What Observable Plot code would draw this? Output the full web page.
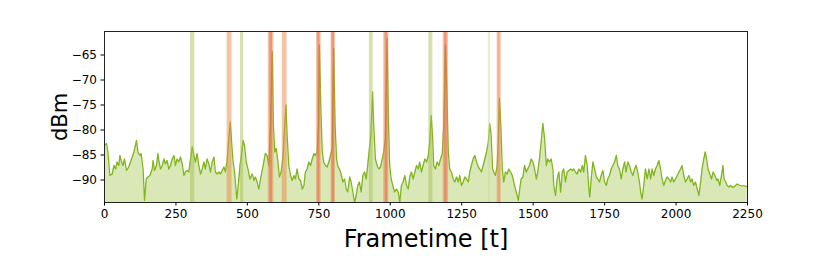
<!DOCTYPE html>
<html><head><meta charset="utf-8">
<script src="https://cdn.jsdelivr.net/npm/d3@7"></script>
<script src="https://cdn.jsdelivr.net/npm/@observablehq/plot@0.6"></script>
<style>
html,body{margin:0;padding:0;background:#fff;}
svg{font-family:"DejaVu Sans",sans-serif;}
</style>
</head><body><div id="chart"></div>
<script>
// Frame times (t) and received power (dBm)
const times = [2,7,12,19,27,33,39,44,50,54,58,65,70,77,85,91,97,103,112,117,124,128,135,140,146,152,159,167,170,175,182,187,191,196,202,208,213,219,225,231,237,243,248,254,260,266,272,278,283,289,295,301,307,313,318,324,330,336,342,348,353,359,365,371,377,383,388,394,400,406,412,418,423,429,435,440,444,449,455,460,463,468,474,479,485,490,496,502,509,517,523,528,534,540,546,555,563,569,575,581,587,591,596,601,607,612,618,624,630,635,639,645,651,657,663,668,674,680,
686,692,698,703,709,715,721,727,733,738,744,749,752,757,762,767,773,779,785,791,797,802,807,812,816,822,828,834,840,846,851,858,863,869,875,881,886,892,898,904,910,916,921,927,932,938,942,948,954,960,966,972,977,983,989,994,998,1003,1009,1015,1022,1028,1033,1039,1045,1051,1057,1063,1068,1074,1080,1086,1092,1098,1103,1109,1115,1121,1127,1133,1138,1143,1148,1152,1158,1164,1170,1176,1182,1187,1193,1198,1203,1208,1214,1220,1226,1232,1238,1243,1249,1255,1261,1267,1273,1278,1284,1290,1296,1302,1308,1313,1319,1325,1331,1337,1343,1348,1353,1358,1362,1368,1374,1378,1382,1387,
1392,1397,1403,1409,1415,1421,1427,1432,1438,1444,1448,1453,1458,1464,1470,1476,1481,1487,1493,1499,1505,1511,1516,1522,1528,1534,1540,1546,1551,1557,1563,1569,1572,1578,1584,1590,1596,1602,1607,1613,1619,1625,1631,1637,1642,1648,1654,1660,1666,1672,1677,1683,1689,1695,1698,1703,1709,1715,1721,1726,1732,1738,1744,1750,1756,1761,1767,1773,1779,1785,1791,1796,1802,1808,1814,1820,1825,1831,1837,1843,1849,1855,1860,1866,1872,1876,1881,1887,1893,1899,1905,1911,1916,1922,1928,1934,1940,1946,1951,1957,1963,1969,1975,1981,1986,1992,1998,2004,2010,2016,2021,2027,2033,2039,2045,2051,2056,2062,2068,2074,2080,2086,2091,2097,2102,2107,2112,2118,2124,2130,2136,2142,2147,2153,2159,2164,2168,2174,2179,2185,2191,2196,2202,2208,2214,2220,2226,2231,2237,2243,2249];
const dbm = [-83.0,-82.7,-84.4,-89.1,-88.8,-87.1,-87.8,-86.4,-87.1,-85.1,-86.1,-87.1,-85.8,-88.1,-87.4,-86.4,-85.4,-84.4,-82.1,-84.4,-85.1,-84.7,-87.8,-94.1,-89.8,-89.4,-89.1,-87.8,-86.1,-88.1,-87.1,-84.7,-86.4,-87.8,-87.1,-85.8,-86.8,-86.1,-87.8,-87.1,-85.8,-85.1,-87.1,-85.8,-86.4,-85.4,-86.8,-89.1,-88.4,-88.1,-88.4,-85.8,-83.4,-85.1,-86.4,-84.7,-87.1,-88.8,-87.8,-86.4,-87.8,-85.8,-86.8,-88.4,-86.4,-85.4,-88.4,-88.8,-88.4,-88.8,-88.1,-87.4,-88.4,-86.1,-81.7,-78.4,-81.7,-85.8,-88.4,-91.8,-93.8,-91.1,-87.1,-85.1,-82.1,-83.1,-86.4,-87.8,-89.8,-88.8,-90.1,-89.4,-90.4,-91.8,-89.8,-87.1,-84.7,-85.1,-87.1,-79.1,-64.3,-79.1,-84.4,-83.7,-86.4,-89.4,-88.4,-85.8,-79.7,-75.0,-81.1,-87.1,-89.1,-90.1,-89.1,-89.8,-87.8,-89.8,
-90.1,-91.8,-91.1,-88.4,-87.8,-86.4,-87.1,-85.8,-84.7,-85.1,-84.4,-79.1,-63.0,-75.7,-84.4,-86.4,-87.1,-87.4,-86.4,-85.1,-83.7,-63.7,-79.1,-85.8,-87.1,-87.8,-88.8,-90.4,-89.8,-91.8,-92.4,-89.4,-90.4,-92.4,-94.5,-93.1,-91.1,-90.4,-92.4,-89.1,-88.4,-89.8,-87.1,-83.7,-81.1,-72.4,-79.1,-85.8,-87.1,-87.8,-87.4,-85.8,-84.4,-81.7,-61.7,-79.1,-87.1,-89.8,-91.1,-92.4,-91.8,-92.4,-94.5,-91.1,-90.4,-89.1,-91.1,-91.8,-89.4,-88.4,-89.8,-88.4,-87.1,-87.8,-86.4,-88.4,-87.1,-85.8,-86.4,-85.1,-82.4,-77.1,-81.1,-87.1,-87.8,-86.4,-87.1,-85.8,-84.7,-79.1,-63.0,-72.4,-84.4,-87.8,-88.4,-89.8,-90.4,-89.4,-90.4,-89.1,-91.1,-90.4,-89.4,-89.8,-90.4,-88.4,-87.1,-85.8,-85.1,-86.4,-87.4,-87.8,-88.4,-87.1,-85.8,-84.4,-82.4,-78.7,-81.1,-87.8,-88.4,-89.1,-87.1,-82.4,-73.7,-79.1,
-87.8,-90.4,-88.4,-88.8,-87.8,-88.4,-89.1,-90.4,-91.8,-93.1,-94.1,-91.8,-89.8,-89.4,-87.1,-88.4,-87.8,-87.1,-85.8,-86.4,-87.8,-89.8,-88.4,-85.8,-82.4,-78.7,-81.7,-87.1,-85.8,-86.4,-85.8,-87.8,-91.1,-93.1,-89.8,-88.4,-92.4,-88.4,-87.8,-90.4,-88.4,-88.1,-87.8,-88.1,-87.8,-88.4,-88.8,-87.8,-88.4,-87.1,-88.4,-85.1,-87.1,-91.8,-93.4,-89.8,-86.4,-87.8,-89.4,-89.8,-90.4,-89.1,-88.1,-90.4,-91.1,-89.8,-89.1,-87.8,-87.1,-86.4,-85.1,-87.1,-87.8,-89.8,-87.8,-86.4,-88.4,-86.4,-87.1,-88.4,-89.1,-87.8,-87.1,-88.4,-90.4,-92.4,-93.8,-91.1,-87.8,-89.8,-87.8,-89.8,-87.8,-89.1,-87.8,-87.1,-86.1,-87.8,-89.8,-91.1,-90.1,-89.4,-89.8,-90.4,-89.4,-90.4,-89.8,-89.1,-88.4,-87.8,-87.1,-89.1,-90.4,-89.8,-89.1,-90.4,-89.8,-91.1,-90.4,-91.8,-93.1,-90.4,-87.8,-85.8,-84.4,-85.8,-87.8,-88.8,-89.8,-88.4,-89.1,-90.1,-89.8,-91.1,-89.1,-87.1,-89.8,-90.4,-91.1,-91.4,-91.1,-91.4,-91.4,-91.1,-90.8,-91.0,-91.1,-91.2,-91.1,-91.3,-91.2];

// Highlighted event spans (frametime)
const bandStart = [301,429,476,573,622,742,793,927,977,1135,1185,1343,1374, 578,746,796,982,1190,1378];
const bandEnd   = [316,446,487,593,639,758,808,940,995,1149,1204,1351,1388, 588,754,805,991,1199,1384];
const bandKind  = ["green","orange","green","orange","orange","orange","orange","green","orange","green","orange","pale","orange", "red","red","red","red","red","lightred"];

const xTicks = [0,250,500,750,1000,1250,1500,1750,2000,2250];
const yTicks = [-90,-85,-80,-75,-70,-65];
const yDomain = [-94.5,-60.3];

const series = times.map((t,i)=>({t, v: dbm[i]}));
const bands = bandStart.map((s,i)=>({s, e: bandEnd[i], k: bandKind[i]}));
const bandColor = {green:"#a4bd4a", pale:"#c8dc98", orange:"#ea8a48", red:"#ee5a50", lightred:"#ee7a60"};
const bandOpacity = {green:0.45, pale:0.45, orange:0.5, red:0.45, lightred:0.3};

const chart = Plot.plot({
  width: 830, height: 260,
  marginLeft: 104, marginRight: 83, marginTop: 31, marginBottom: 58,
  style: {fontFamily: "DejaVu Sans, sans-serif", fontSize: "12px", background: "#fff", color: "#000"},
  x: {domain: [0,2250], label: null},
  y: {domain: yDomain, label: null},
  marks: [
    Plot.areaY(series, {x: "t", y1: yDomain[0], y2: "v", fill: "#d9e8b6", clip: true}),
    Plot.line(series, {x: "t", y: "v", stroke: "#80b51f", strokeWidth: 1.3, clip: true}),
    Plot.rect(bands, {x1: "s", x2: "e", fill: d => bandColor[d.k], fillOpacity: d => bandOpacity[d.k]}),
    Plot.frame({stroke: "#222", strokeWidth: 1}),
    Plot.axisX({ticks: xTicks, tickSize: 3.5, tickPadding: 3, tickFormat: d => String(d), label: null, fontSize: 12}),
    Plot.axisY({ticks: yTicks, tickSize: 3.5, tickPadding: 4, label: null, fontSize: 12}),
    Plot.text(["Frametime [t]"], {frameAnchor: "bottom", lineAnchor: "middle", dy: 37, fontSize: 24, fill: "#000"}),
    Plot.text(["dBm"], {frameAnchor: "left", lineAnchor: "middle", textAnchor: "middle", rotate: -90, dx: -44, fontSize: 21, fill: "#000"})
  ]
});
document.getElementById("chart").appendChild(chart);
</script>
</body></html>
